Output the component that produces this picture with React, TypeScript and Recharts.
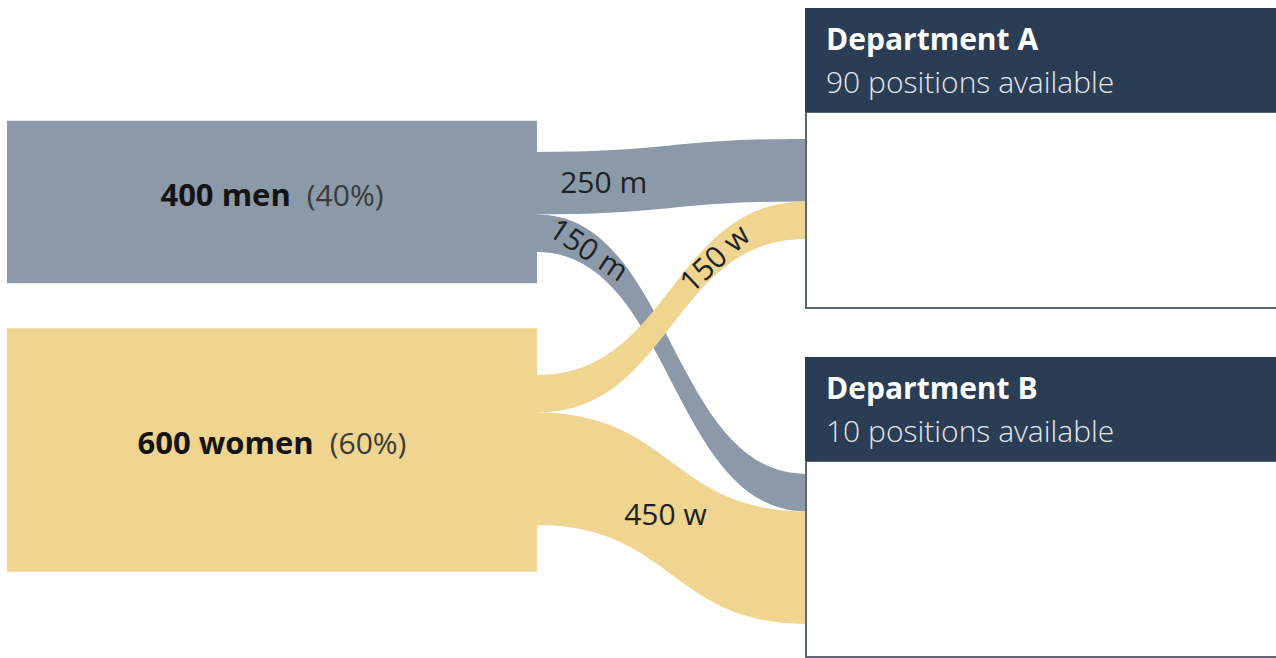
import React from 'react';
import { Sankey } from 'recharts';

// ---------- data ----------
const SOURCES = ['men', 'women'];
const SOURCE_SUFFIX = ['m', 'w'];
const DEPARTMENTS = ['Department A', 'Department B'];
const POSITIONS = [90, 10];
const MEN_TO_DEPT = [250, 150];
const WOMEN_TO_DEPT = [150, 450];
const FLOWS = [MEN_TO_DEPT, WOMEN_TO_DEPT];

const TOTAL = FLOWS.flat().reduce((a, b) => a + b, 0);

const sankeyData = {
  nodes: [...SOURCES.map((name) => ({ name })), ...DEPARTMENTS.map((name) => ({ name }))],
  links: FLOWS.flatMap((row, s) =>
    row.map((value, d) => ({ source: s, target: SOURCES.length + d, value }))
  ),
};

// ---------- style / layout ----------
const PAGE_W = 1276;
const PAGE_H = 658;
const CHART_W = 1336;
const MARGIN = { top: 152, right: 0, bottom: 133, left: 7 };
const NODE_W = 530;
const NODE_PAD = 123;
const BOX_SCALE = 1.624;
const SOURCE_COLORS = ['#8C99A9', '#EFD58F'];
const HEADER_FILL = '#2B3C55';
const BORDER = '#5B6676';
const FONT = '"Open Sans", "Noto Sans", sans-serif';

const FRAME_TOP = 8;
const FRAME_BOTTOM = 657;
const FRAME_GAP = 49;
const HEADER_H = 104;
const STACK_ALIGN = 0.28;
const LABEL_T = [0.2, 0.15, 0.7, 0.47];

function deptFrame(i: number, stackH: number) {
  const n = DEPARTMENTS.length;
  const slotH = (FRAME_BOTTOM - FRAME_TOP - FRAME_GAP * (n - 1)) / n;
  const top = FRAME_TOP + i * (slotH + FRAME_GAP);
  const headerBottom = top + HEADER_H;
  const bottom = top + slotH;
  const stackTop = headerBottom + (bottom - headerBottom - stackH) * STACK_ALIGN;
  return { top, headerBottom, bottom, stackTop };
}

const cubic = (p0: number, p1: number, p2: number, p3: number, t: number) =>
  (1 - t) ** 3 * p0 + 3 * (1 - t) ** 2 * t * p1 + 3 * (1 - t) * t * t * p2 + t ** 3 * p3;
const dcubic = (p0: number, p1: number, p2: number, p3: number, t: number) =>
  3 * (1 - t) ** 2 * (p1 - p0) + 6 * (1 - t) * t * (p2 - p1) + 3 * t * t * (p3 - p2);

function FlowLink(props: any) {
  const { sourceX, targetX, sourceY, targetY, sourceControlX, targetControlX, linkWidth, index, payload } = props;
  const src = payload.source;
  const tgt = payload.target;
  const si = SOURCES.indexOf(src.name);
  const di = DEPARTMENTS.indexOf(tgt.name);
  const nodeTop = tgt.y + MARGIN.top;
  const frame = deptFrame(di, tgt.dy);
  const sy = sourceY;
  const ty = targetY - nodeTop + frame.stackTop;
  const hw = linkWidth / 2;
  const d = `M${sourceX},${sy - hw} C${sourceControlX},${sy - hw} ${targetControlX},${ty - hw} ${targetX},${ty - hw} L${targetX},${ty + hw} C${targetControlX},${ty + hw} ${sourceControlX},${sy + hw} ${sourceX},${sy + hw} Z`;

  const t = LABEL_T[index] ?? 0.5;
  const lx = cubic(sourceX, sourceControlX, targetControlX, targetX, t);
  const ly = cubic(sy, sy, ty, ty, t);
  const dx = dcubic(sourceX, sourceControlX, targetControlX, targetX, t);
  const dy = dcubic(sy, sy, ty, ty, t);
  const angle = linkWidth < 50 ? (Math.atan2(dy, dx) * 180) / Math.PI : 0;

  return (
    <g>
      <path d={d} fill={SOURCE_COLORS[si]} stroke="none" />
      <text
        x={lx}
        y={ly}
        transform={`rotate(${angle} ${lx} ${ly})`}
        textAnchor="middle"
        dominantBaseline="central"
        fontFamily={FONT}
        fontSize={30}
        fill="#1E2226"
      >
        {`${payload.value} ${SOURCE_SUFFIX[si]}`}
      </text>
    </g>
  );
}

function FlowNode(props: any) {
  const { x, y, width, height, payload } = props;
  const si = SOURCES.indexOf(payload.name);
  if (si >= 0) {
    const cy = y + height / 2;
    const bh = height * BOX_SCALE;
    const pct = Math.round((payload.value / TOTAL) * 100);
    return (
      <g>
        <rect x={x} y={cy - bh / 2} width={width} height={bh} fill={SOURCE_COLORS[si]} />
        <text x={x + width / 2} y={cy + 4} textAnchor="middle" fontFamily={FONT}>
          <tspan fontWeight={700} fontSize={31} fill="#141414">{`${payload.value} ${payload.name}`}</tspan>
          <tspan dx={16} fontSize={30} fill="#3A3A3A">{`(${pct}%)`}</tspan>
        </text>
      </g>
    );
  }
  const di = DEPARTMENTS.indexOf(payload.name);
  const f = deptFrame(di, height);
  return (
    <g>
      <rect x={x} y={f.headerBottom} width={width} height={f.bottom - f.headerBottom} fill="#FFFFFF" stroke={BORDER} strokeWidth={2} />
      <rect x={x - 1} y={f.top} width={width + 1} height={HEADER_H} fill={HEADER_FILL} />
      <text x={x + 20} y={f.top + 42} fill="#FFFFFF" fontFamily={FONT} fontWeight={700} fontSize={30}>
        {payload.name}
      </text>
      <text x={x + 20} y={f.top + 85} fill="#E4E8EE" fontFamily={FONT} fontWeight={300} fontSize={30}>
        {`${POSITIONS[di]} positions available`}
      </text>
    </g>
  );
}

export default function App() {
  return (
    <div
      style={{
        position: 'absolute',
        left: 0,
        top: 0,
        width: PAGE_W,
        height: PAGE_H,
        overflow: 'hidden',
        background: '#FFFFFF',
      }}
    >
      <Sankey
        width={CHART_W}
        height={PAGE_H}
        data={sankeyData}
        margin={MARGIN}
        nodeWidth={NODE_W}
        nodePadding={NODE_PAD}
        iterations={0}
        linkCurvature={0.5}
        node={FlowNode}
        link={FlowLink}
      />
    </div>
  );
}
